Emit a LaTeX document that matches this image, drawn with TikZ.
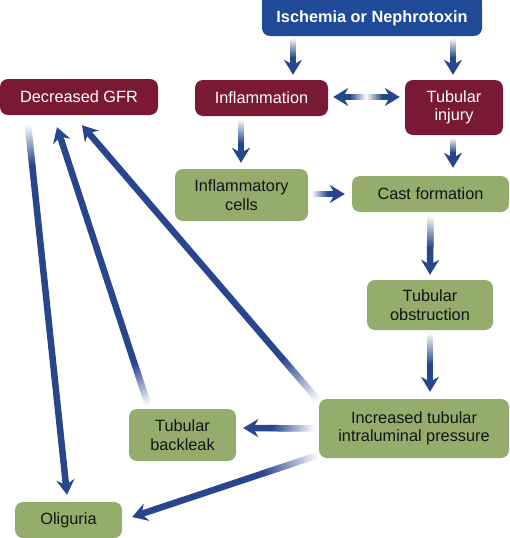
\documentclass[tikz,border=0pt]{standalone}
\usepackage{fontspec}
\setmainfont{Liberation Sans}
\usetikzlibrary{arrows.meta,calc}
\definecolor{arrowblue}{RGB}{40,70,140}
\definecolor{ischblue}{RGB}{31,74,152}
\definecolor{boxred}{RGB}{121,25,54}
\definecolor{boxgreen}{RGB}{148,172,108}
\definecolor{darktext}{RGB}{20,20,20}
\tikzset{
  box/.style={rectangle,rounded corners=8pt,inner sep=0pt,align=center,
    font=\fontsize{16.3}{18.5}\selectfont},
  redbox/.style={box,fill=boxred,text=white},
  greenbox/.style={box,fill=boxgreen,text=darktext},
  ischbox/.style={box,fill=ischblue,text=white,font=\fontsize{16.3}{18.5}\selectfont\bfseries},
  shaft/.style={line width=6.5pt,line cap=butt},
}
\newcommand{\fadearrow}[3]{%
  \foreach \k in {0,...,23}{%
    \pgfmathsetmacro\pa{#3*\k/24}%
    \pgfmathsetmacro\pb{#3*(\k+1.5)/24}%
    \pgfmathtruncatemacro\pc{4+96*\k/23}%
    \draw[shaft,draw=arrowblue!\pc!white] ($#1!\pa!#2$) -- ($#1!\pb!#2$);
  }%
  \draw[shaft,draw=arrowblue,-{Stealth[length=15pt,width=18pt,inset=5pt]}] ($#1!#3!#2$) -- #2;
}
\begin{document}
\begin{tikzpicture}[x=1pt,y=-1pt]
\useasboundingbox (0,0) rectangle (510,538);
\fill[ischblue] (262,0) rectangle (482,14);
% nodes
\node[ischbox,minimum width=220pt,minimum height=36pt] (isch) at (372,18) {Ischemia or Nephrotoxin};
\node[redbox,minimum width=158pt,minimum height=36pt] (gfr) at (79,97) {Decreased GFR};
\node[redbox,minimum width=133pt,minimum height=36pt] (infl) at (261.5,98) {Inflammation};
\node[redbox,minimum width=98pt,minimum height=55pt] (tinj) at (454,107.5) {Tubular\\injury};
\node[greenbox,minimum width=133pt,minimum height=52pt] (icells) at (241.5,195) {Inflammatory\\cells};
\node[greenbox,minimum width=157pt,minimum height=36pt] (cast) at (430.5,194) {Cast formation};
\node[greenbox,minimum width=126pt,minimum height=50pt] (tobs) at (430,305) {Tubular\\obstruction};
\node[greenbox,minimum width=190pt,minimum height=59pt] (incr) at (414,428.5) {Increased tubular\\intraluminal pressure};
\node[greenbox,minimum width=107pt,minimum height=52pt] (back) at (182.5,435) {Tubular\\backleak};
\node[greenbox,minimum width=107pt,minimum height=36pt] (olig) at (68.5,520) {Oliguria};
% connector end points
\coordinate (a1) at ($(isch.south)+(-79,2)$);
\coordinate (b1) at ($(infl.north)+(31.5,-5)$);
\coordinate (a2) at ($(isch.south)+(81,2)$);
\coordinate (b2) at ($(tinj.north)+(-1,-5)$);
\coordinate (d1) at ($(infl.east)+(5,-1)$);
\coordinate (d2) at ($(tinj.west)+(-5,-10.5)$);
\coordinate (dm) at ($(d1)!0.5!(d2)$);
\coordinate (a4) at ($(infl.south)+(-20.5,4)$);
\coordinate (b4) at ($(icells.north)+(-0.5,-6)$);
\coordinate (a5) at ($(tinj.south)+(-1,3)$);
\coordinate (b5) at ($(cast.north)+(22.5,-8)$);
\coordinate (a6) at ($(icells.east)+(4,-1)$);
\coordinate (b6) at ($(cast.west)+(-7,0)$);
\coordinate (a7) at ($(cast.south)+(0,4)$);
\coordinate (b7) at ($(tobs.north)+(0,-5)$);
\coordinate (a8) at ($(tobs.south)+(0,3)$);
\coordinate (b8) at ($(incr.north)+(16,-7)$);
\coordinate (a9) at ($(incr.west)+(-5,0)$);
\coordinate (b9) at ($(back.east)+(7,-7)$);
\coordinate (a10) at ($(incr.south west)+(-1,-3)$);
\coordinate (b10) at ($(olig.east)+(10,-3)$);
\coordinate (a11) at ($(incr.north west)+(-1,1)$);
\coordinate (b11) at ($(gfr.south)+(3,10)$);
\coordinate (a12) at ($(back.north)+(-34.5,-4)$);
\coordinate (b12) at ($(gfr.south)+(-22,12)$);
\coordinate (a13) at ($(gfr.south)+(-51,10)$);
\coordinate (b13) at ($(olig.north)+(-1.5,-7)$);
% connectors
\fadearrow{(a1)}{(b1)}{0.55}
\fadearrow{(a2)}{(b2)}{0.55}
\fadearrow{(dm)}{(d1)}{0.5}
\fadearrow{(dm)}{(d2)}{0.5}
\fadearrow{(a4)}{(b4)}{0.55}
\fadearrow{(a5)}{(b5)}{0.5}
\fadearrow{(a6)}{(b6)}{0.5}
\fadearrow{(a7)}{(b7)}{0.55}
\fadearrow{(a8)}{(b8)}{0.55}
\fadearrow{(a9)}{(b9)}{0.6}
\fadearrow{(a10)}{(b10)}{0.3}
\fadearrow{(a11)}{(b11)}{0.15}
\fadearrow{(a12)}{(b12)}{0.15}
\fadearrow{(a13)}{(b13)}{0.11}
\end{tikzpicture}
\end{document}
